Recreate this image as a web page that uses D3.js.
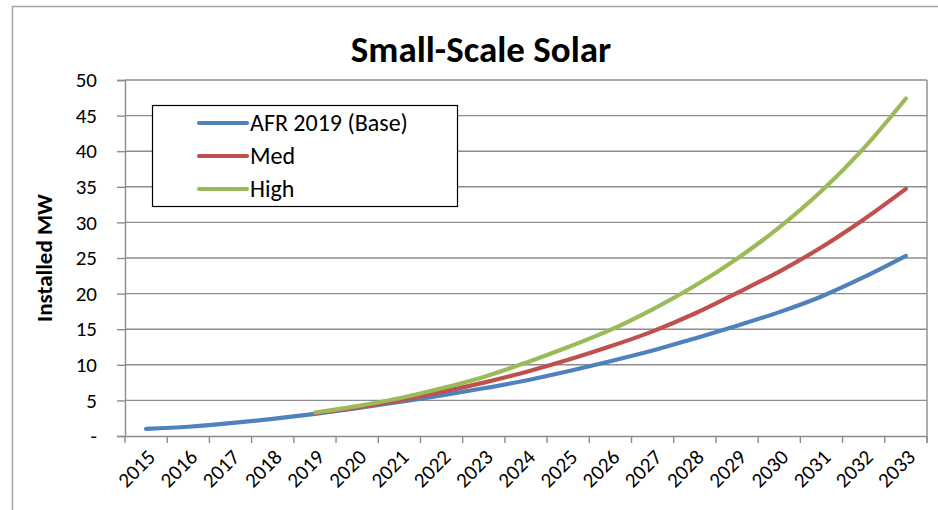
<!DOCTYPE html>
<html>
<head>
<meta charset="utf-8">
<script src="https://cdn.jsdelivr.net/npm/d3@7"></script>
<style>
  html, body { margin: 0; padding: 0; background: #fff; }
  svg { display: block; font-family: Carlito, Calibri, Lato, "Liberation Sans", sans-serif; }
</style>
</head>
<body>
<svg id="chart" width="938" height="510"></svg>
<script>
// Installed small-scale solar capacity (MW) by forecast year
const years = ["2015","2016","2017","2018","2019","2020","2021","2022","2023","2024",
               "2025","2026","2027","2028","2029","2030","2031","2032","2033"];
const baseValues = [1.0, 1.3, 1.8, 2.4, 3.1, 3.9, 4.8, 5.7, 6.7, 7.8,
                    9.1, 10.5, 12.0, 13.7, 15.5, 17.4, 19.6, 22.3, 25.3];
const medValues  = [null, null, null, null, 3.2, 4.0, 5.0, 6.2, 7.5, 9.0,
                    10.7, 12.6, 14.7, 17.2, 20.1, 23.1, 26.5, 30.4, 34.7];
const highValues = [null, null, null, null, 3.3, 4.2, 5.3, 6.7, 8.3, 10.3,
                    12.5, 14.9, 17.8, 21.1, 24.9, 29.3, 34.4, 40.4, 47.4];
const yTicks = [0, 5, 10, 15, 20, 25, 30, 35, 40, 45, 50];
const seriesNames = ["AFR 2019 (Base)", "Med", "High"];
const seriesColors = ["#4F81BD", "#C0504D", "#9BBB59"];

const series = [baseValues, medValues, highValues].map((vals, i) => ({
  name: seriesNames[i],
  color: seriesColors[i],
  points: vals.map((v, j) => ({ year: years[j], value: v })).filter(d => d.value !== null)
}));

const svg = d3.select("#chart");
const plot = { left: 125, top: 80, right: 927, bottom: 436 };
const axisGrey = "#8c8c8c";
const labelFont = "Carlito, Calibri, Lato, sans-serif";

// Outer chart frame (left and top edges visible)
svg.append("path")
  .attr("d", "M12.5,510 L12.5,6.5 L938,6.5")
  .attr("fill", "none").attr("stroke", "#a6a6a6").attr("stroke-width", 1.5);

// Title
svg.append("text")
  .attr("x", 481).attr("y", 62)
  .attr("text-anchor", "middle")
  .attr("font-size", 37).attr("font-weight", "bold")
  .text("Small-Scale Solar");

const x = d3.scaleBand().domain(years).range([plot.left, plot.right]).padding(0);
const y = d3.scaleLinear().domain([0, 50]).range([plot.bottom, plot.top]);

// Horizontal gridlines
svg.append("g")
  .selectAll("line").data(yTicks.filter(t => t > 0)).join("line")
  .attr("x1", plot.left).attr("x2", plot.right)
  .attr("y1", d => y(d)).attr("y2", d => y(d))
  .attr("stroke", axisGrey).attr("stroke-width", 1.4);

// Right edge of the plot area
svg.append("line")
  .attr("x1", plot.right).attr("x2", plot.right)
  .attr("y1", plot.top).attr("y2", plot.bottom + 7)
  .attr("stroke", axisGrey).attr("stroke-width", 1.4);

// Y axis
const yAxis = d3.axisLeft(y).tickValues(yTicks).tickSize(8).tickPadding(20)
  .tickFormat(d => d === 0 ? "-" : d);
const gy = svg.append("g").attr("transform", `translate(${plot.left},0)`).call(yAxis);
gy.select(".domain").attr("stroke", axisGrey).attr("stroke-width", 1.4);
gy.selectAll(".tick line").attr("stroke", axisGrey).attr("stroke-width", 1.4);
gy.selectAll(".tick text").attr("font-size", 21).attr("fill", "#000")
  .attr("font-family", labelFont);

// X axis: ticks sit between categories
const xAxis = d3.axisBottom(x).tickSize(0).tickFormat(d => d);
const gx = svg.append("g").attr("transform", `translate(0,${plot.bottom})`).call(xAxis);
gx.select(".domain").attr("stroke", axisGrey).attr("stroke-width", 1.4);
gx.selectAll(".tick text")
  .attr("font-size", 21).attr("fill", "#000")
  .attr("font-family", labelFont)
  .attr("text-anchor", "end")
  .attr("dy", null)
  .attr("transform", "translate(7,19) rotate(-45)")
  .attr("y", 0).attr("x", 0).attr("dominant-baseline", "middle");
svg.append("g")
  .selectAll("line").data(d3.range(years.length + 1)).join("line")
  .attr("x1", i => plot.left + i * x.step()).attr("x2", i => plot.left + i * x.step())
  .attr("y1", plot.bottom).attr("y2", plot.bottom + 7)
  .attr("stroke", axisGrey).attr("stroke-width", 1.4);

// Y axis title
svg.append("text")
  .attr("transform", `translate(52,258) rotate(-90)`)
  .attr("text-anchor", "middle")
  .attr("font-size", 23).attr("font-weight", "bold")
  .text("Installed MW");

// Series lines
const line = d3.line()
  .x(d => x(d.year) + x.bandwidth() / 2)
  .y(d => y(d.value))
  .curve(d3.curveCatmullRom.alpha(0.5));

svg.append("g")
  .selectAll("path").data(series).join("path")
  .attr("d", d => line(d.points))
  .attr("fill", "none")
  .attr("stroke", d => d.color)
  .attr("stroke-width", 4.2)
  .attr("stroke-linecap", "round")
  .attr("stroke-linejoin", "round");

// Legend
const legend = svg.append("g");
legend.append("rect")
  .attr("x", 152.5).attr("y", 105.5).attr("width", 305).attr("height", 101)
  .attr("fill", "#fff").attr("stroke", "#000").attr("stroke-width", 1.2);
const rows = legend.selectAll("g").data(series).join("g")
  .attr("transform", (d, i) => `translate(0,${123 + i * 33})`);
rows.append("line")
  .attr("x1", 199).attr("x2", 247).attr("y1", 0).attr("y2", 0)
  .attr("stroke", d => d.color).attr("stroke-width", 4.2).attr("stroke-linecap", "round");
rows.append("text")
  .attr("x", 250).attr("y", 0).attr("dy", "0.35em")
  .attr("font-size", 24)
  .text(d => d.name);
</script>
</body>
</html>
